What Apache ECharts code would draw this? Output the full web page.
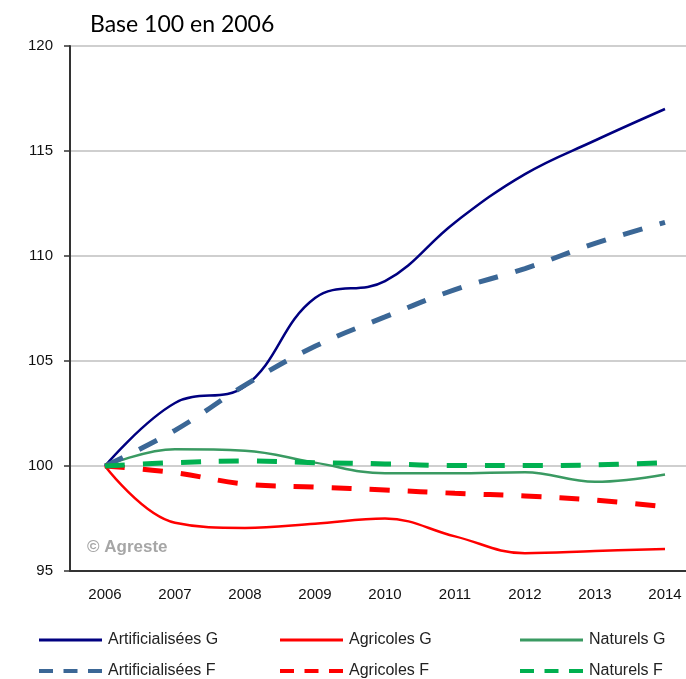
<!DOCTYPE html>
<html>
<head>
<meta charset="utf-8">
<script src="https://cdn.jsdelivr.net/npm/echarts@6/dist/echarts.min.js"></script>
<style>
  html, body { margin: 0; padding: 0; background: #fff; overflow: hidden; }
  #chart { width: 686px; height: 679px; }
</style>
</head>
<body>
<div id="chart"></div>
<script>
const years = ['2006', '2007', '2008', '2009', '2010', '2011', '2012', '2013', '2014'];

const artificialiseesG = [100, 103.0, 103.8, 108.0, 108.8, 111.6, 113.9, 115.5, 117.0];
const agricolesG = [100, 97.3, 97.05, 97.25, 97.5, 96.65, 95.85, 95.95, 96.05];
const naturelsG = [100, 100.8, 100.73, 100.16, 99.65, 99.65, 99.7, 99.25, 99.6];
const artificialiseesF = [100, 101.7, 103.85, 105.7, 107.1, 108.4, 109.4, 110.6, 111.6];
const agricolesF = [100, 99.68, 99.14, 99.0, 98.86, 98.7, 98.57, 98.38, 98.06];
const naturelsF = [100, 100.16, 100.24, 100.16, 100.1, 100.02, 100.02, 100.05, 100.16];

const yTicks = [95, 100, 105, 110, 115, 120];

const chart = echarts.init(document.getElementById('chart'));

const solid = (name, data, color) => ({
    name, type: 'line', data, smooth: 0.4, symbol: 'none',
    lineStyle: { color, width: 2.5 },
    itemStyle: { color }
});
const dashed = (name, data, color) => ({
    name, type: 'line', data, smooth: 0.4, symbol: 'none',
    lineStyle: { color, width: 5, type: [20, 18] },
    itemStyle: { color }
});

// legend: one column per land type, solid on top, dashed below
const legendCol = (left, g, f) => ({
    orient: 'vertical',
    left, top: 632, height: 60,
    padding: 0,
    itemWidth: 63,
    itemHeight: 12,
    itemGap: 15,
    itemStyle: { opacity: 0 },
    lineStyle: { width: 3 },
    textStyle: { fontFamily: 'Liberation Sans', fontSize: 16, color: '#222', padding: [0, 0, 0, 1] },
    data: [
        { name: g, lineStyle: { width: 3, type: 'solid' } },
        { name: f, lineStyle: { width: 4, type: [14, 10.5] } }
    ]
});

chart.setOption({
    animation: false,
    title: {
        text: 'Base 100 en 2006',
        left: 85, top: 8,
        textStyle: { fontFamily: 'Lato', fontSize: 23, fontWeight: 'normal', color: '#000' }
    },
    grid: { left: 70, top: 46, width: 630, height: 525, outerBoundsMode: 'none', containLabel: false },
    legend: [
        legendCol(37, 'Artificialisées G', 'Artificialisées F'),
        legendCol(278, 'Agricoles G', 'Agricoles F'),
        legendCol(518, 'Naturels G', 'Naturels F')
    ],
    xAxis: {
        type: 'category',
        data: years,
        boundaryGap: true,
        axisLine: { lineStyle: { color: '#333', width: 2 } },
        axisTick: { length: 6, lineStyle: { color: '#333', width: 1.5 } },
        axisLabel: { fontFamily: 'Liberation Sans', fontSize: 15, color: '#111', margin: 16 }
    },
    yAxis: {
        type: 'value',
        min: yTicks[0],
        max: yTicks[yTicks.length - 1],
        interval: 5,
        axisLine: { show: true, lineStyle: { color: '#333', width: 2 } },
        axisTick: { show: true, length: 6, lineStyle: { color: '#333', width: 1.5 } },
        axisLabel: { fontFamily: 'Liberation Sans', fontSize: 15, color: '#111', margin: 17 },
        splitLine: { lineStyle: { color: '#cfcfcf', width: 2 } }
    },
    graphic: [{
        type: 'text',
        left: 87, top: 539,
        style: { text: '© Agreste', fontFamily: 'Liberation Sans', fontSize: 17, fontWeight: 'bold', fill: '#a6a6a6' }
    }],
    series: [
        solid('Artificialisées G', artificialiseesG, '#000080'),
        solid('Agricoles G', agricolesG, '#ff0000'),
        solid('Naturels G', naturelsG, '#3a9a62'),
        dashed('Artificialisées F', artificialiseesF, '#3b6796'),
        dashed('Agricoles F', agricolesF, '#ff0000'),
        dashed('Naturels F', naturelsF, '#00b050')
    ]
});
</script>
</body>
</html>
